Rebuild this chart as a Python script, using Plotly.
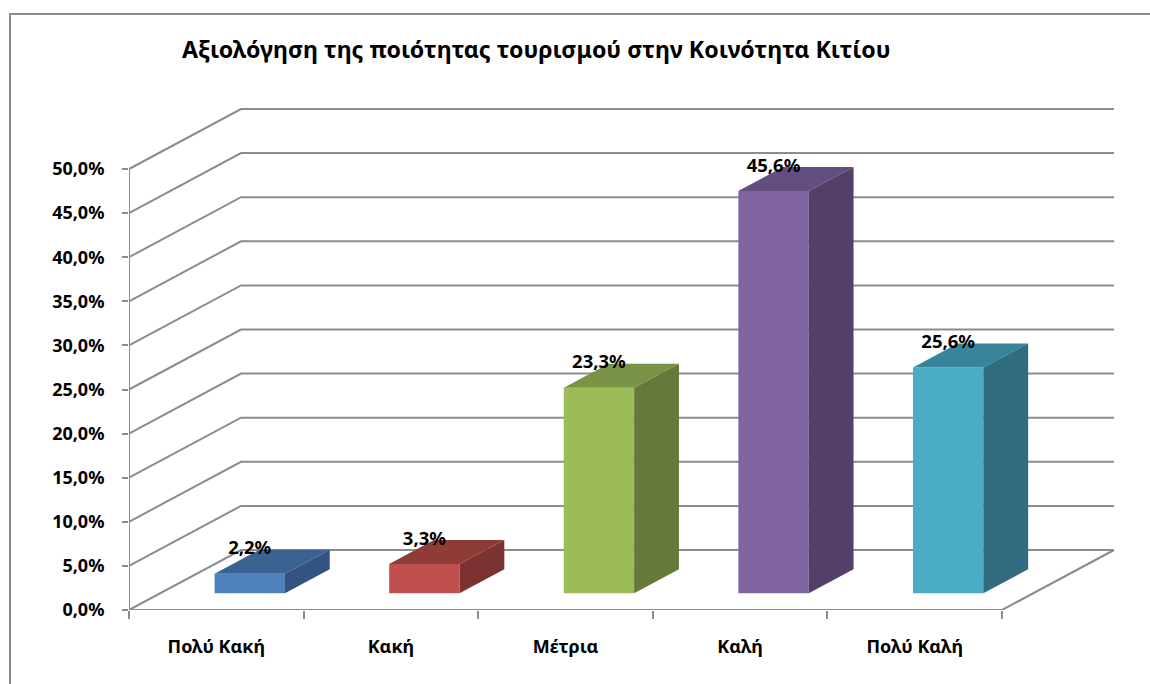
import plotly.graph_objects as go

# ---- data ----
categories = ["Πολύ Κακή", "Κακή", "Μέτρια", "Καλή", "Πολύ Καλή"]
values = [2.2, 3.3, 23.3, 45.6, 25.6]
y_ticks = [0, 5, 10, 15, 20, 25, 30, 35, 40, 45, 50]
title_text = "Αξιολόγηση της ποιότητας τουρισμού στην Κοινότητα Κιτίου"

front_colors = ["#4F81BD", "#C0504D", "#9BBB59", "#8064A2", "#4BACC6"]
top_colors = ["#3B6391", "#8F3C39", "#7A9347", "#644E7F", "#38859B"]
side_colors = ["#335480", "#7C3230", "#66783A", "#533F68", "#316C7F"]

# ---- layout of the oblique 3-D look ----
W, H = 1150, 684
LEFT, BASE = 129, 610
PX_CAT, PX_PCT = 174.6, 8.82
DX, DY = 112 / PX_CAT, 60 / PX_PCT   # wall depth in axis units
BAR_W, D0, D1 = 0.403, 0.28, 0.68    # bar width, front and back depth fractions
BAR_SHIFT = 0.012                    # sideways nudge of the bars along the axis
GRID = "#8C8C8C"
FONT = "Noto Sans"
N = len(categories)


def pct(v):
    return f"{v:.1f}".replace(".", ",") + "%"


fig = go.Figure()


def line(xs, ys, width=2.0):
    fig.add_trace(go.Scatter(x=xs, y=ys, mode="lines", hoverinfo="skip", showlegend=False,
                             line=dict(color=GRID, width=width), cliponaxis=False))


def face(xs, ys, color, name=None):
    fig.add_trace(go.Scatter(x=xs, y=ys, mode="lines", fill="toself", fillcolor=color,
                             line=dict(width=0), hoverinfo="skip", showlegend=False, name=name))


# walls and floor
for v in y_ticks:
    line([0, DX, N + DX], [v, v + DY, v + DY])
line([0, 0], [y_ticks[0], y_ticks[-1]])
line([0, N, N + DX], [0, 0, DY])

# bars: each face projected from the value
for i, v in enumerate(values):
    xl = i + 0.5 + D0 * DX + BAR_SHIFT - BAR_W / 2
    xr = xl + BAR_W
    ox, oy = (D1 - D0) * DX, (D1 - D0) * DY
    b = D0 * DY
    face([xl, xr, xr, xl, xl], [b, b, b + v, b + v, b], front_colors[i], categories[i])
    face([xl, xr, xr + ox, xl + ox, xl], [b + v, b + v, b + v + oy, b + v + oy, b + v], top_colors[i])
    face([xr, xr + ox, xr + ox, xr, xr], [b, b + oy, b + v + oy, b + v, b], side_colors[i])

# data labels
fig.add_trace(go.Scatter(
    x=[i + 0.5 + D0 * DX + BAR_SHIFT for i in range(N)],
    y=[v + D1 * DY for v in values],
    text=[pct(v) for v in values],
    mode="text", textposition="middle center",
    textfont=dict(family=FONT, size=18.5, color="black", weight="bold"),
    hoverinfo="skip", showlegend=False, cliponaxis=False))

top_frac = 1 - 14 / BASE
left_frac = (10 - LEFT) / (W - LEFT)
fig.update_layout(
    width=W, height=H,
    margin=dict(l=LEFT, r=0, t=0, b=H - BASE, pad=0),
    paper_bgcolor="white", plot_bgcolor="white",
    showlegend=False,
    title=dict(text=title_text, xref="container", yref="container", x=182 / W, y=1 - 50 / H,
               xanchor="left", yanchor="middle",
               font=dict(family=FONT, size=23.2, color="black", weight="bold")),
    xaxis=dict(range=[0, (W - LEFT) / PX_CAT], showgrid=False, zeroline=False, showline=False,
               tickmode="array", tickvals=[i + 0.5 for i in range(N)], ticktext=categories,
               ticks="", ticklabelstandoff=24,
               tickfont=dict(family=FONT, size=18, color="black", weight="bold"),
               minor=dict(tickmode="array", tickvals=list(range(N + 1)), ticks="outside",
                          ticklen=8, tickwidth=2, tickcolor=GRID, showgrid=False)),
    yaxis=dict(range=[0, BASE / PX_PCT], showgrid=False, zeroline=False, showline=False,
               tickmode="array", tickvals=y_ticks, ticktext=[pct(v) for v in y_ticks],
               ticks="outside", ticklen=6, tickwidth=2, tickcolor=GRID, ticklabelstandoff=14,
               tickfont=dict(family=FONT, size=18, color="black", weight="bold")),
    shapes=[dict(type="path", xref="paper", yref="paper",
                 path=f"M {left_frac} {(BASE - H) / BASE} L {left_frac} {top_frac} L 1 {top_frac}",
                 line=dict(color="#8C8C8C", width=2))],
)

fig.write_html("out.html", config={"displayModeBar": False},
               post_script="document.body.style.margin='0';")
